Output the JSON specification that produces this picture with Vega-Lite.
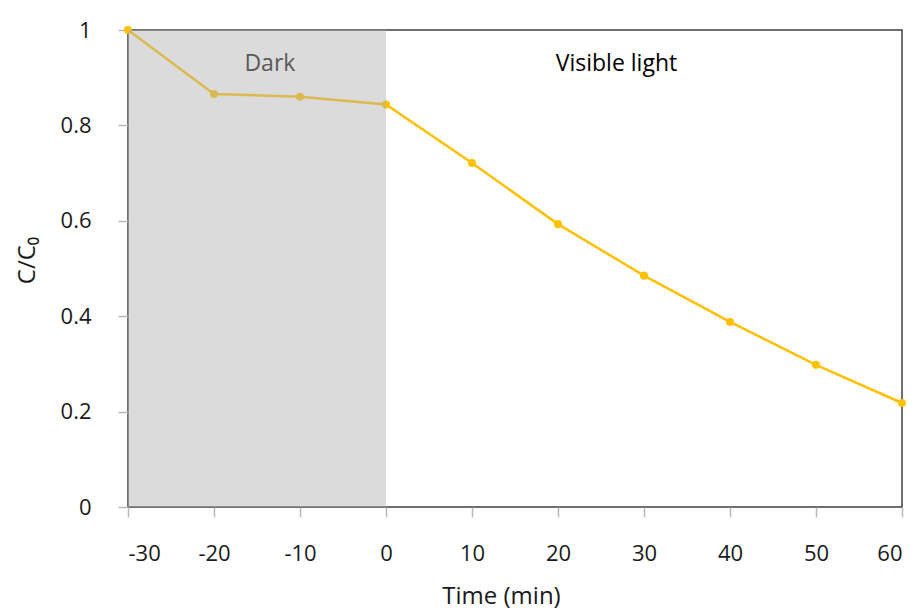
{
  "$schema": "https://vega.github.io/schema/vega-lite/v6.json",
  "width": 774,
  "height": 477,
  "autosize": "none",
  "padding": {"left": 128, "top": 30, "right": 15, "bottom": 103},
  "background": "white",
  "config": {
    "font": "Open Sans",
    "view": {"stroke": "#404040", "strokeWidth": 1.5},
    "axis": {
      "grid": false,
      "domain": false,
      "tickColor": "#b8b8b8",
      "tickSize": 10,
      "tickWidth": 1.5,
      "labelFont": "Open Sans",
      "labelFontSize": 22,
      "labelColor": "#1a1a1a",
      "titleFont": "Open Sans",
      "titleFontSize": 23,
      "titleFontWeight": "normal",
      "titleColor": "#1a1a1a"
    }
  },
  "datasets": {
    "series": [
      {"time": -30, "ratio": 1.0},
      {"time": -20, "ratio": 0.866},
      {"time": -10, "ratio": 0.86},
      {"time": 0, "ratio": 0.844},
      {"time": 10, "ratio": 0.721},
      {"time": 20, "ratio": 0.593},
      {"time": 30, "ratio": 0.485},
      {"time": 40, "ratio": 0.388},
      {"time": 50, "ratio": 0.298},
      {"time": 60, "ratio": 0.218}
    ],
    "region": [{"start": -30, "end": 0, "low": 0, "high": 1}],
    "labels": [
      {"time": -13.5, "ratio": 0.929, "label": "Dark", "kind": "dark"},
      {"time": 26.8, "ratio": 0.929, "label": "Visible light", "kind": "light"}
    ]
  },
  "encoding": {
    "x": {
      "field": "time",
      "type": "quantitative",
      "scale": {"domain": [-30, 60], "nice": false},
      "axis": {
        "values": [-30, -20, -10, 0, 10, 20, 30, 40, 50, 60],
        "labelExpr": "datum.value < 0 ? '-' + abs(datum.value) : '' + datum.value",
        "labelPadding": 26,
        "title": "Time (min)",
        "titleFontSize": 24,
        "titlePadding": 20,
        "titleX": 373
      }
    },
    "y": {
      "field": "ratio",
      "type": "quantitative",
      "scale": {"domain": [0, 1], "nice": false},
      "axis": {
        "values": [0, 0.2, 0.4, 0.6, 0.8, 1],
        "format": "~g",
        "labelPadding": 27,
        "title": "C/C₀",
        "titleFontSize": 24,
        "titleAngle": -90,
        "titleBaseline": "middle",
        "titleAlign": "center",
        "titleX": -101,
        "titleY": 230
      }
    }
  },
  "layer": [
    {
      "data": {"name": "series"},
      "mark": {"type": "line", "color": "#FFC000", "strokeWidth": 2.5},
      "encoding": {}
    },
    {
      "data": {"name": "series"},
      "mark": {"type": "circle", "color": "#FFC000", "opacity": 1, "size": 65},
      "encoding": {}
    },
    {
      "data": {"name": "region"},
      "mark": {"type": "rect", "color": "#b0b0b0", "opacity": 0.46},
      "encoding": {
        "x": {"field": "start", "type": "quantitative"},
        "x2": {"field": "end"},
        "y": {"field": "low", "type": "quantitative"},
        "y2": {"field": "high"}
      }
    },
    {
      "data": {"name": "labels"},
      "mark": {"type": "text", "fontSize": 23, "font": "Open Sans", "align": "center", "baseline": "middle"},
      "encoding": {
        "text": {"field": "label"},
        "color": {
          "field": "kind",
          "type": "nominal",
          "scale": {"domain": ["dark", "light"], "range": ["#595959", "#000000"]},
          "legend": null
        }
      }
    }
  ]
}
